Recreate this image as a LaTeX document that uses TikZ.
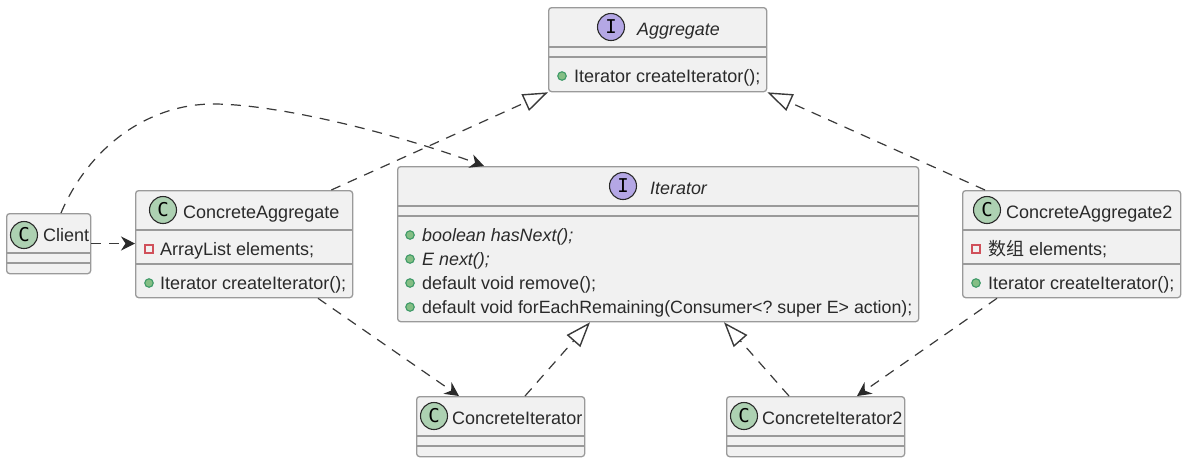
\documentclass[tikz,border=0pt]{standalone}
\usepackage{fontspec}
\setmainfont{Liberation Sans}
\newfontfamily\cjkf{Noto Sans CJK SC}
\newfontfamily\monof{DejaVu Sans Mono}
\usetikzlibrary{arrows.meta,calc}
\definecolor{boxfill}{HTML}{F1F1F1}
\definecolor{boxline}{HTML}{9A9A9A}
\definecolor{ink}{HTML}{2A2A2A}
\definecolor{clsC}{HTML}{ADD1B2}
\definecolor{clsI}{HTML}{B4A7E5}
\definecolor{pubfill}{HTML}{84BE84}
\definecolor{publine}{HTML}{3E9A68}
\definecolor{privline}{HTML}{D0505A}
\definecolor{linkc}{HTML}{3A3A3A}
\tikzset{
  x=1pt,y=-1pt,
  classbox/.style={draw=boxline,fill=boxfill,line width=1.3pt,rounded corners=3pt,inner sep=0pt,anchor=north west},
  divider/.style={draw=boxline,line width=1.3pt},
  label/.style={font=\frenchspacing\fontsize{18}{20}\selectfont,text=ink,inner sep=0pt,anchor=base west},
  longlabel/.style={label,font=\frenchspacing\fontsize{17.78}{20}\selectfont},
  itlabel/.style={font=\frenchspacing\itshape\fontsize{17.9}{20}\selectfont,text=ink,inner sep=0pt,anchor=base west},
  circC/.style={circle,draw=ink,line width=1.1pt,fill=clsC,minimum size=27pt,inner sep=0pt,font=\monof\fontsize{19}{19}\selectfont,text=black},
  circI/.style={circle,draw=ink,line width=1.1pt,fill=clsI,minimum size=27pt,inner sep=0pt,font=\monof\fontsize{19}{19}\selectfont,text=black},
  pub/.style={circle,draw=publine,fill=pubfill,line width=1.1pt,minimum size=8.5pt,inner sep=0pt},
  priv/.style={rectangle,draw=privline,fill=boxfill,line width=1.2pt,minimum size=8pt,inner sep=0pt},
  dep/.style={draw=linkc,line width=1.2pt,dash pattern=on 10pt off 8pt,-{Stealth[length=14pt,width=14pt,inset=4.5pt,color=ink]}},
  real/.style={draw=linkc,line width=1.2pt,dash pattern=on 10pt off 8pt,-{Triangle[open,length=25pt,width=18pt,color=linkc,line width=1.4pt]}},
}
\begin{document}
\begin{tikzpicture}
\useasboundingbox[fill=white] (0,0) rectangle (1186,459);
% Boxes
\node[classbox,minimum width=218pt,minimum height=84pt] (agg) at (548,7) {};
\node[classbox,minimum width=84pt,minimum height=60pt] (cli) at (6,213) {};
\node[classbox,minimum width=217pt,minimum height=107pt] (ca) at (135,190) {};
\node[classbox,minimum width=521pt,minimum height=155pt] (it) at (397,166) {};
\node[classbox,minimum width=218pt,minimum height=107pt] (cb) at (962,190) {};
\node[classbox,minimum width=168pt,minimum height=60pt] (ci) at (416,396) {};
\node[classbox,minimum width=178pt,minimum height=60pt] (cj) at (726,396) {};
% Dividers
\draw[divider] ($(agg.north west)+(0,40)$) -- ($(agg.north east)+(0,40)$);
\draw[divider] ($(agg.north west)+(0,50)$) -- ($(agg.north east)+(0,50)$);
\draw[divider] ($(cli.north west)+(0,40)$) -- ($(cli.north east)+(0,40)$);
\draw[divider] ($(cli.north west)+(0,50)$) -- ($(cli.north east)+(0,50)$);
\draw[divider] ($(ca.north west)+(0,40)$) -- ($(ca.north east)+(0,40)$);
\draw[divider] ($(ca.north west)+(0,74)$) -- ($(ca.north east)+(0,74)$);
\draw[divider] ($(it.north west)+(0,40)$) -- ($(it.north east)+(0,40)$);
\draw[divider] ($(it.north west)+(0,50)$) -- ($(it.north east)+(0,50)$);
\draw[divider] ($(cb.north west)+(0,40)$) -- ($(cb.north east)+(0,40)$);
\draw[divider] ($(cb.north west)+(0,74)$) -- ($(cb.north east)+(0,74)$);
\draw[divider] ($(ci.north west)+(0,40)$) -- ($(ci.north east)+(0,40)$);
\draw[divider] ($(ci.north west)+(0,50)$) -- ($(ci.north east)+(0,50)$);
\draw[divider] ($(cj.north west)+(0,40)$) -- ($(cj.north east)+(0,40)$);
\draw[divider] ($(cj.north west)+(0,50)$) -- ($(cj.north east)+(0,50)$);
% Class circles and names
\node[circI] (aggc) at (611,27) {I};
\node[itlabel] (aggn) at (637,35) {Aggregate};
\node[circC] (clic) at (24,235) {C};
\node[label] (clin) at (43,241) {Client};
\node[circC] (cac) at (163,210) {C};
\node[label] (can) at (183,218) {ConcreteAggregate};
\node[circI] (itc) at (623,186) {I};
\node[itlabel] (itn) at (650,194) {Iterator};
\node[circC] (cbc) at (987,210) {C};
\node[label] (cbn) at (1006,218) {ConcreteAggregate2};
\node[circC] (cic) at (434,416) {C};
\node[label] (cin) at (452,424) {ConcreteIterator};
\node[circC] (cjc) at (744,416) {C};
\node[label] (cjn) at (762,424) {ConcreteIterator2};
% Members
\node[pub] (m1) at (562,76) {};
\node[label] (t1) at (574,82) {Iterator createIterator();};
\node[priv] (m2) at (149,249) {};
\node[label] (t2) at (160,255) {ArrayList elements;};
\node[pub] (m3) at (149,283) {};
\node[label] (t3) at (160,289) {Iterator createIterator();};
\node[pub] (m4) at (410,235) {};
\node[itlabel] (t4) at (422,241) {boolean hasNext();};
\node[pub] (m5) at (410,259) {};
\node[itlabel] (t5) at (422,265) {E next();};
\node[pub] (m6) at (410,283) {};
\node[label] (t6) at (422,289) {default void remove();};
\node[pub] (m7) at (410,307) {};
\node[longlabel] (t7) at (422,313) {default void forEachRemaining(Consumer<? super E> action);};
\node[priv] (m8) at (976,249) {};
\node[label] (t8) at (988,255) {{\cjkf 数组} elements;};
\node[pub] (m9) at (976,283) {};
\node[label] (t9) at (988,289) {Iterator createIterator();};
% Connectors
\draw[dep] ([xshift=55pt]cli.north west) .. controls (90,145) and (150,104) .. (213,104) .. controls (280,104) and (400,135) .. ([xshift=87pt]it.north west);
\draw[dep] ([yshift=-30.5pt]cli.north east) -- ([yshift=-53.5pt]ca.north west);
\draw[real] ([xshift=-22pt]ca.north east) -- (agg.south west);
\draw[real] ([xshift=23pt]cb.north west) -- (agg.south east);
\draw[dep] ([xshift=183pt]ca.south west) -- ([xshift=43pt]ci.north west);
\draw[dep] ([xshift=35pt]cb.south west) -- ([xshift=131pt]cj.north west);
\draw[real] ([xshift=109pt]ci.north west) -- ([xshift=193pt]it.south west);
\draw[real] ([xshift=63pt]cj.north west) -- ([xshift=327pt]it.south west);
\end{tikzpicture}
\end{document}
